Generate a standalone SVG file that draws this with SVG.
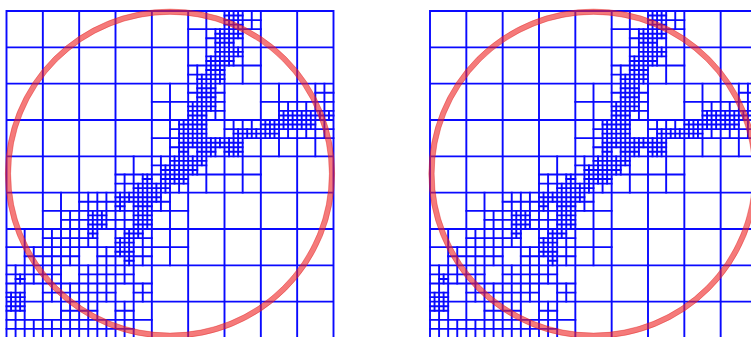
<svg xmlns="http://www.w3.org/2000/svg" xmlns:xlink="http://www.w3.org/1999/xlink" width="751" height="337" viewBox="0 0 751 337">
<style>
.g{fill:none;stroke:#0a0aff;stroke-width:1.9;vector-effect:non-scaling-stroke;stroke-linecap:square}
.ring{fill:none;stroke:#ee2222;stroke-opacity:0.6;stroke-width:5.5}
.edge{fill:none;stroke:#d81818;stroke-opacity:0.45;stroke-width:0.8}
</style>
<defs>
<g id="qt">
<path class="g" d="M0 0V72M8 0V72M16 0V72M24 0V72M32 0V72M40 0V72M48 0V72M56 0V72M64 0V72M72 0V72M0 0H72M0 8H72M0 16H72M0 24H72M0 32H72M0 40H72M0 48H72M0 56H72M0 64H72M0 72H72"/>
<path class="g" d="M44 0v8M40 4h8M52 0v8M48 4h8M44 8v8M40 12h8M52 8v8M48 12h8M36 16v8M32 20h8M44 16v8M40 20h8M60 16v8M56 20h8M68 16v8M64 20h8M36 24v8M32 28h8M44 24v8M40 28h8M52 24v8M48 28h8M60 24v8M56 28h8M68 24v8M64 28h8M28 32v8M24 36h8M36 32v8M32 36h8M44 32v8M40 36h8M52 32v8M48 36h8M12 40v8M8 44h8M20 40v8M16 44h8M28 40v8M24 44h8M36 40v8M32 44h8M4 48v8M0 52h8M12 48v8M8 52h8M20 48v8M16 52h8M28 48v8M24 52h8M36 48v8M32 52h8M4 56v8M0 60h8M12 56v8M8 60h8M20 56v8M16 60h8M28 56v8M24 60h8M4 64v8M0 68h8M12 64v8M8 68h8M20 64v8M16 68h8M28 64v8M24 68h8"/>
<path class="g" d="M46 4v4M44 6h4M50 0v4M48 2h4M54 0v4M52 2h4M50 4v4M48 6h4M46 8v4M44 10h4M42 12v4M40 14h4M46 12v4M44 14h4M50 8v4M48 10h4M42 16v4M40 18h4M46 16v4M44 18h4M42 20v4M40 22h4M46 20v4M44 22h4M62 20v4M60 22h4M66 20v4M64 22h4M70 16v4M68 18h4M70 20v4M68 22h4M38 24v4M36 26h4M38 28v4M36 30h4M42 24v4M40 26h4M42 28v4M40 30h4M46 28v4M44 30h4M50 24v4M48 26h4M54 24v4M52 26h4M50 28v4M48 30h4M58 24v4M56 26h4M62 24v4M60 26h4M66 24v4M64 26h4M70 24v4M68 26h4M26 36v4M24 38h4M30 36v4M28 38h4M34 32v4M32 34h4M38 32v4M36 34h4M34 36v4M32 38h4M38 36v4M36 38h4M42 32v4M40 34h4M14 44v4M12 46h4M18 40v4M16 42h4M22 40v4M20 42h4M18 44v4M16 46h4M22 44v4M20 46h4M26 40v4M24 42h4M30 40v4M28 42h4M26 44v4M24 46h4M30 44v4M28 46h4M34 40v4M32 42h4M6 52v4M4 54h4M10 48v4M8 50h4M14 48v4M12 50h4M10 52v4M8 54h4M14 52v4M12 54h4M18 48v4M16 50h4M22 52v4M20 54h4M26 48v4M24 50h4M30 48v4M28 50h4M26 52v4M24 54h4M30 52v4M28 54h4M2 56v4M0 58h4M6 56v4M4 58h4M2 60v4M0 62h4M10 56v4M8 58h4M10 60v4M8 62h4M14 60v4M12 62h4M18 56v4M16 58h4M22 56v4M20 58h4M18 60v4M16 62h4M22 60v4M20 62h4M26 56v4M24 58h4M30 60v4M28 62h4M2 64v4M0 66h4M2 68v4M0 70h4M6 68v4M4 70h4M14 64v4M12 66h4M10 68v4M8 70h4M14 68v4M12 70h4M18 64v4M16 66h4M18 68v4M16 70h4M22 68v4M20 70h4M26 64v4M24 66h4M26 68v4M24 70h4"/>
<path class="g" d="M47 4v2M46 5h2M47 6v2M46 7h2M49 0v2M48 1h2M51 0v2M50 1h2M49 2v2M48 3h2M51 2v2M50 3h2M49 4v2M48 5h2M51 4v2M50 5h2M49 6v2M48 7h2M47 8v2M46 9h2M45 10v2M44 11h2M47 10v2M46 11h2M43 14v2M42 15h2M45 12v2M44 13h2M47 12v2M46 13h2M45 14v2M44 15h2M47 14v2M46 15h2M49 8v2M48 9h2M51 8v2M50 9h2M49 10v2M48 11h2M43 16v2M42 17h2M43 18v2M42 19h2M45 16v2M44 17h2M45 18v2M44 19h2M41 20v2M40 21h2M43 20v2M42 21h2M41 22v2M40 23h2M43 22v2M42 23h2M45 20v2M44 21h2M61 22v2M60 23h2M63 22v2M62 23h2M65 22v2M64 23h2M67 22v2M66 23h2M69 22v2M68 23h2M71 22v2M70 23h2M39 24v2M38 25h2M39 26v2M38 27h2M39 28v2M38 29h2M39 30v2M38 31h2M41 24v2M40 25h2M43 24v2M42 25h2M41 26v2M40 27h2M43 26v2M42 27h2M41 28v2M40 29h2M43 28v2M42 29h2M43 30v2M42 31h2M45 28v2M44 29h2M47 28v2M46 29h2M45 30v2M44 31h2M51 26v2M50 27h2M53 26v2M52 27h2M55 26v2M54 27h2M49 28v2M48 29h2M51 28v2M50 29h2M49 30v2M48 31h2M51 30v2M50 31h2M57 24v2M56 25h2M59 24v2M58 25h2M57 26v2M56 27h2M59 26v2M58 27h2M61 24v2M60 25h2M63 24v2M62 25h2M65 24v2M64 25h2M67 24v2M66 25h2M31 36v2M30 37h2M29 38v2M28 39h2M31 38v2M30 39h2M37 32v2M36 33h2M39 32v2M38 33h2M35 34v2M34 35h2M37 34v2M36 35h2M39 34v2M38 35h2M35 36v2M34 37h2M37 36v2M36 37h2M39 36v2M38 37h2M33 38v2M32 39h2M35 38v2M34 39h2M41 32v2M40 33h2M43 32v2M42 33h2M41 34v2M40 35h2M25 40v2M24 41h2M27 40v2M26 41h2M29 40v2M28 41h2M31 40v2M30 41h2M25 42v2M24 43h2M29 42v2M28 43h2M31 42v2M30 43h2M29 44v2M28 45h2M31 44v2M30 45h2M29 46v2M28 47h2M31 46v2M30 47h2M33 40v2M32 41h2M19 44v2M18 45h2M21 44v2M20 45h2M19 46v2M18 47h2M21 46v2M20 47h2M19 48v2M18 49h2M27 48v2M26 49h2M29 48v2M28 49h2M25 50v2M24 51h2M27 50v2M26 51h2M25 52v2M24 53h2M27 52v2M26 53h2M27 54v2M26 55h2M3 58v2M2 59h2M1 62v2M0 63h2M3 62v2M2 63h2M1 64v2M0 65h2M3 64v2M2 65h2"/>
</g>
</defs>
<g id="panel-left">
<use xlink:href="#qt" href="#qt" transform="translate(6.5 11) scale(4.541667)"/>
<circle class="ring" cx="170" cy="173.7" r="162"/>
<circle class="edge" cx="170" cy="173.7" r="164.6"/>
<circle class="edge" cx="170" cy="173.7" r="159.4"/>
</g>
<g id="panel-right">
<use xlink:href="#qt" href="#qt" transform="translate(430 11) scale(4.541667)"/>
<circle class="ring" cx="593.5" cy="173.7" r="162"/>
<circle class="edge" cx="593.5" cy="173.7" r="164.6"/>
<circle class="edge" cx="593.5" cy="173.7" r="159.4"/>
</g>
</svg>
